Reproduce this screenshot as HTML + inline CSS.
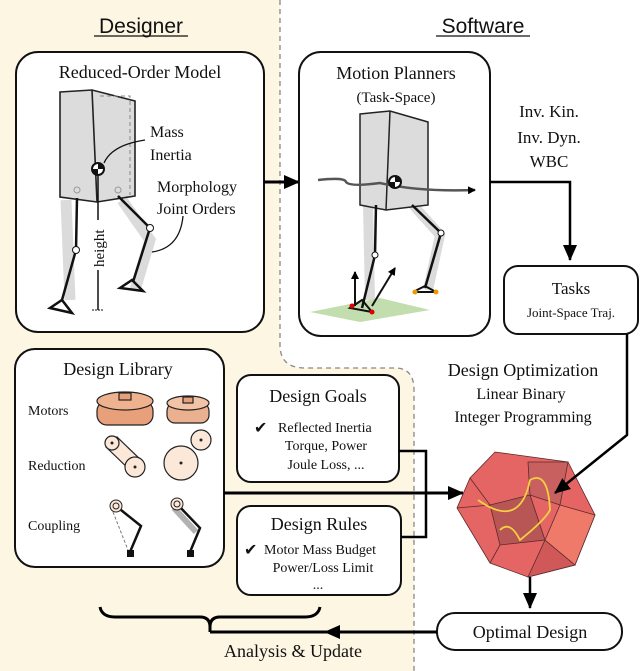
<!DOCTYPE html>
<html><head><meta charset="utf-8"><style>
body{margin:0;background:#fff;}
svg{display:block;}
.t{font-family:"Liberation Serif",serif;fill:#111;}
.s{font-family:"Liberation Sans",sans-serif;fill:#111;}
</style></head><body>
<svg width="640" height="671" viewBox="0 0 640 671" xmlns="http://www.w3.org/2000/svg">
<defs>
<marker id="a" markerWidth="8" markerHeight="8" refX="7" refY="4" orient="auto" markerUnits="userSpaceOnUse"><path d="M0,0 L8,4 L0,8 z" fill="#000"/></marker>
<marker id="b" markerWidth="16" markerHeight="14" refX="15" refY="7" orient="auto" markerUnits="userSpaceOnUse"><path d="M0,0 L16,7 L0,14 z" fill="#000"/></marker>
</defs>
<path d="M0,0 H280 V345 Q280,368 305,368 H395 Q414,368 414,390 V671 H0 Z" fill="#fdf6e3"/>
<path d="M280,0 V345 Q280,368 305,368 H395 Q414,368 414,390 V671" fill="none" stroke="#888" stroke-width="1.3" stroke-dasharray="5,4"/>
<text x="141" y="33" class="s" font-size="21" text-anchor="middle">Designer</text>
<line x1="94" y1="36" x2="188" y2="36" stroke="#111" stroke-width="1.2"/>
<text x="483" y="33" class="s" font-size="21" text-anchor="middle">Software</text>
<line x1="436" y1="36" x2="530" y2="36" stroke="#111" stroke-width="1.2"/>

<!-- ROM box -->
<rect x="16" y="52" width="248" height="280" rx="22" fill="#fff" stroke="#111" stroke-width="2"/>
<text x="140" y="78" class="t" font-size="18" text-anchor="middle">Reduced-Order Model</text>
<g>
<path d="M66,200 L70,300 M122,200 L150,240 L135,290" stroke="#ccc" stroke-width="11" fill="none" opacity="0.7"/>
<path d="M60,92 L92,90 L135,101 L135,196 L97,202 L60,197 Z" fill="#dcdcdc" stroke="#222" stroke-width="1.6"/>
<line x1="92" y1="90" x2="97" y2="202" stroke="#222" stroke-width="1.6"/>
<path d="M100,96 H130 V195" fill="none" stroke="#888" stroke-dasharray="4,3"/>
<path d="M77,198 L76,250 L62,300 M118,196 L150,228 L133,282" stroke="#111" stroke-width="2.5" fill="none"/>
<circle cx="76" cy="250" r="3.5" fill="#fff" stroke="#111"/><circle cx="150" cy="228" r="3.5" fill="#fff" stroke="#111"/>
<circle cx="77" cy="190" r="3" fill="none" stroke="#999"/><circle cx="118" cy="190" r="3" fill="none" stroke="#999"/>
<path d="M50,308 L62,300 L72,313 Z M120,288 L132,280 L143,291 Z" fill="none" stroke="#111" stroke-width="2.5"/>
<circle cx="98" cy="169" r="6" fill="#fff" stroke="#111" stroke-width="2"/>
<path d="M98,163 A6,6 0 0 1 104,169 L98,169 Z M98,175 A6,6 0 0 1 92,169 L98,169 Z" fill="#111"/>
<path d="M98,175 V220 M98,270 V310" stroke="#111" stroke-width="1.5"/>
<line x1="92" y1="310" x2="104" y2="310" stroke="#111" stroke-dasharray="2,1"/>
<path d="M104,163 Q112,145 145,140" fill="none" stroke="#111" stroke-width="1.3"/>
<path d="M183,216 Q180,248 152,252" fill="none" stroke="#111" stroke-width="1.3"/>
</g>
<text x="150" y="137" class="t" font-size="16">Mass</text>
<text x="150" y="160" class="t" font-size="16">Inertia</text>
<text x="157" y="192" class="t" font-size="16">Morphology</text>
<text x="157" y="214" class="t" font-size="16">Joint Orders</text>
<text x="0" y="0" class="t" font-size="15" transform="translate(104,267) rotate(-90)">height</text>

<line x1="264" y1="182" x2="299" y2="182" stroke="#000" stroke-width="3" marker-end="url(#b)"/>

<!-- Motion box -->
<rect x="299" y="52" width="191" height="284" rx="22" fill="#fff" stroke="#111" stroke-width="2"/>
<text x="396" y="79" class="t" font-size="18" text-anchor="middle">Motion Planners</text>
<text x="396" y="102" class="t" font-size="15" text-anchor="middle">(Task-Space)</text>
<path d="M310,312 L380,298 L430,310 L360,322 Z" fill="#a8d08d" opacity="0.7"/>
<path d="M368,205 L370,300 M413,205 L440,235 L428,290" stroke="#ccc" stroke-width="10" fill="none" opacity="0.7"/>
<path d="M360,114 L390,111 L428,122 L428,205 L386,210 L360,205 Z" fill="#dcdcdc" stroke="#222" stroke-width="1.5"/>
<line x1="390" y1="111" x2="386" y2="210" stroke="#222" stroke-width="1.5"/>
<path d="M376,205 L375,255 L362,308 M412,205 L441,233 L425,288" stroke="#111" stroke-width="2.5" fill="none"/>
<circle cx="375" cy="255" r="3" fill="#fff" stroke="#111"/><circle cx="441" cy="233" r="3" fill="#fff" stroke="#111"/>
<path d="M318,180 Q345,177 346,182 Q350,187 380,183 Q420,192 475,190" fill="none" stroke="#555" stroke-width="2.5" marker-end="url(#a)"/>
<circle cx="395" cy="182" r="6" fill="#fff" stroke="#111" stroke-width="2"/>
<path d="M395,176 A6,6 0 0 1 401,182 L395,182 Z M395,188 A6,6 0 0 1 389,182 L395,182 Z" fill="#111"/>
<line x1="355" y1="306" x2="355" y2="272" stroke="#111" stroke-width="2" marker-end="url(#a)"/>
<line x1="372" y1="306" x2="395" y2="268" stroke="#111" stroke-width="2" marker-end="url(#a)"/>
<path d="M350,308 L362,300 L372,312 Z M413,292 L425,286 L436,292 Z" fill="none" stroke="#111" stroke-width="2"/>
<circle cx="352" cy="306" r="2.5" fill="#d00"/><circle cx="372" cy="312" r="2.5" fill="#d00"/>
<circle cx="415" cy="292" r="2.5" fill="#e90"/><circle cx="436" cy="292" r="2.5" fill="#e90"/>

<text x="549" y="117" class="t" font-size="17" text-anchor="middle">Inv. Kin.</text>
<text x="549" y="143" class="t" font-size="17" text-anchor="middle">Inv. Dyn.</text>
<text x="549" y="167" class="t" font-size="17" text-anchor="middle">WBC</text>
<polyline points="490,182 570,182 570,260" fill="none" stroke="#000" stroke-width="2.5" marker-end="url(#b)"/>

<rect x="504" y="266" width="134" height="68" rx="14" fill="#fff" stroke="#111" stroke-width="2"/>
<text x="571" y="294" class="t" font-size="17" text-anchor="middle">Tasks</text>
<text x="571" y="317" class="t" font-size="13" text-anchor="middle">Joint-Space Traj.</text>

<!-- Design Library -->
<rect x="15" y="349" width="209" height="218" rx="20" fill="#fff" stroke="#111" stroke-width="2"/>
<text x="118" y="375" class="t" font-size="18" text-anchor="middle">Design Library</text>
<text x="28" y="415" class="t" font-size="14">Motors</text>
<text x="28" y="470" class="t" font-size="14">Reduction</text>
<text x="28" y="530" class="t" font-size="14">Coupling</text>
<g stroke="#222" stroke-width="1.2">
<rect x="97" y="401" width="56" height="24" rx="10" fill="#e8a07a"/><ellipse cx="125" cy="401" rx="28" ry="9" fill="#eeb28f"/><rect x="119" y="393" width="12" height="7" fill="#e8a07a"/>
<rect x="167" y="403" width="42" height="20" rx="8" fill="#eab08f"/><ellipse cx="188" cy="403" rx="21" ry="7" fill="#f3c3a6"/><rect x="183" y="397" width="10" height="6" fill="#e8a07a"/>
<path d="M106,447 L133,473 L143,462 L117,437 Z" fill="#fbe8d8"/>
<circle cx="112" cy="443" r="7" fill="#fbe8d8"/><circle cx="135" cy="467" r="10" fill="#fbe8d8"/>
<circle cx="181" cy="463" r="17" fill="#fbe8d8"/><circle cx="201" cy="440" r="10" fill="#fbe8d8"/>
</g>
<g fill="#222"><circle cx="112" cy="443" r="1.5"/><circle cx="135" cy="467" r="1.5"/><circle cx="181" cy="463" r="1.5"/><circle cx="201" cy="440" r="1.5"/></g>
<path d="M116,506 L141,526 L130,552 M177,504 L200,528 L190,552" stroke="#111" stroke-width="2.5" fill="none"/>
<path d="M113,512 L128,550" stroke="#777" stroke-dasharray="3,2" fill="none"/>
<path d="M174,508 L196,532" stroke="#666" stroke-width="6" fill="none" opacity="0.5"/>
<circle cx="116" cy="506" r="6" fill="#fbe8d8" stroke="#222"/><circle cx="116" cy="506" r="3" fill="none" stroke="#222"/>
<circle cx="177" cy="504" r="6" fill="#fbe8d8" stroke="#222"/><circle cx="177" cy="504" r="3" fill="none" stroke="#222"/>
<rect x="127" y="550" width="7" height="7" fill="#111"/><rect x="187" y="550" width="7" height="7" fill="#111"/>

<!-- Goals & Rules -->
<rect x="237" y="375" width="162" height="107" rx="14" fill="#fff" stroke="#111" stroke-width="2"/>
<text x="318" y="402" class="t" font-size="18" text-anchor="middle">Design Goals</text>
<text x="254" y="433" class="t" font-size="16">✔</text>
<text x="278" y="432" class="t" font-size="14">Reflected Inertia</text>
<text x="326" y="450" class="t" font-size="14" text-anchor="middle">Torque, Power</text>
<text x="326" y="469" class="t" font-size="14" text-anchor="middle">Joule Loss, ...</text>
<rect x="237" y="506" width="164" height="89" rx="14" fill="#fff" stroke="#111" stroke-width="2"/>
<text x="319" y="530" class="t" font-size="18" text-anchor="middle">Design Rules</text>
<text x="244" y="555" class="t" font-size="16">✔</text>
<text x="264" y="554" class="t" font-size="14">Motor Mass Budget</text>
<text x="323" y="572" class="t" font-size="14" text-anchor="middle">Power/Loss Limit</text>
<text x="318" y="589" class="t" font-size="14" text-anchor="middle">...</text>
<polyline points="399,451 426,451 426,537 401,537" fill="none" stroke="#000" stroke-width="2.5"/>
<line x1="224" y1="493" x2="463" y2="493" stroke="#000" stroke-width="3" marker-end="url(#b)"/>

<text x="523" y="376" class="t" font-size="18" text-anchor="middle">Design Optimization</text>
<text x="521" y="399" class="t" font-size="16" text-anchor="middle">Linear Binary</text>
<text x="523" y="422" class="t" font-size="16" text-anchor="middle">Integer Programming</text>

<!-- polyhedron -->
<g stroke="#5a2a2a" stroke-width="0.8">
<polygon points="495,452 568,462 595,515 575,565 528,577 490,563 457,508 470,478" fill="#e56565"/>
<polygon points="528,462 568,462 560,505 530,495" fill="#c86060"/>
<polygon points="490,505 530,495 545,540 500,545" fill="#b85555"/>
<polygon points="545,540 575,565 528,577" fill="#d05858"/>
<polygon points="560,505 595,515 575,565 545,540" fill="#f07a6a"/>
<polyline points="470,478 490,505 457,508" fill="none"/>
<polyline points="500,545 490,563" fill="none"/>
</g>
<path d="M478,500 Q520,530 530,480 Q548,470 550,510 Q545,520 520,540 Q510,520 500,530" fill="none" stroke="#f5d040" stroke-width="1.8"/>
<polyline points="627,334 627,435 555,493" fill="none" stroke="#000" stroke-width="2.5" marker-end="url(#b)"/>
<line x1="530" y1="577" x2="530" y2="608" stroke="#000" stroke-width="2.5" marker-end="url(#b)"/>

<rect x="437" y="613" width="185" height="37" rx="18" fill="#fff" stroke="#111" stroke-width="2"/>
<text x="530" y="638" class="t" font-size="18" text-anchor="middle">Optimal Design</text>
<line x1="437" y1="632" x2="325" y2="632" stroke="#000" stroke-width="3" marker-end="url(#b)"/>
<line x1="330" y1="632" x2="210" y2="632" stroke="#000" stroke-width="3"/>
<path d="M100,607 Q102,617 115,617 H200 Q210,617 210,627 V632 M210,627 Q210,617 220,617 H305 Q318,617 320,607" fill="none" stroke="#000" stroke-width="3"/>
<text x="293" y="657" class="t" font-size="18" text-anchor="middle">Analysis &amp; Update</text>
</svg>
</body></html>
